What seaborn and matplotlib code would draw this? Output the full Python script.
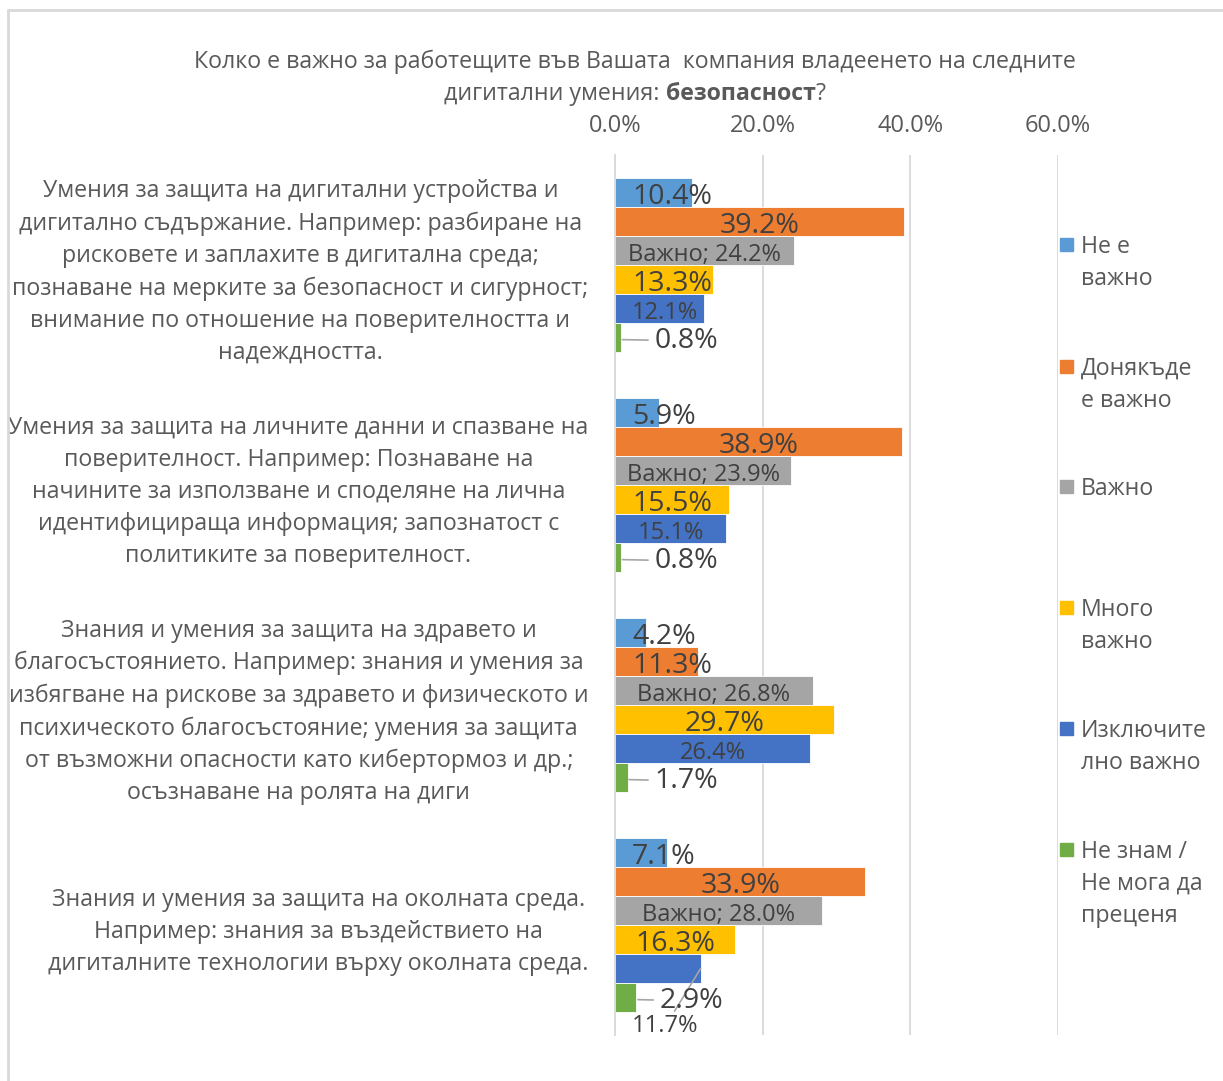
import pandas as pd
import seaborn as sns
import matplotlib.pyplot as plt
from matplotlib.lines import Line2D
from matplotlib.patches import Rectangle

categories = [
    "Умения за защита на дигитални устройства и\nдигитално съдържание. Например: разбиране на\n"
    "рисковете и заплахите в дигитална среда;\nпознаване на мерките за безопасност и сигурност;\n"
    "внимание по отношение на поверителността и\nнадеждността.",
    "Умения за защита на личните данни и спазване на\nповерителност. Например: Познаване на\n"
    "начините за използване и споделяне на лична\nидентифицираща информация; запознатост с\n"
    "политиките за поверителност.",
    "Знания и умения за защита на здравето и\nблагосъстоянието. Например: знания и умения за\n"
    "избягване на рискове за здравето и физическото и\nпсихическото благосъстояние; умения за защита\n"
    "от възможни опасности като кибертормоз и др.;\nосъзнаване на ролята на диги",
    "Знания и умения за защита на околната среда.\nНапример: знания за въздействието на\n"
    "дигиталните технологии върху околната среда.",
]
series = ["Не е важно", "Донякъде е важно", "Важно", "Много важно",
          "Изключително важно", "Не знам / Не мога да преценя"]
legend_labels = ["Не е\nважно", "Донякъде\nе важно", "Важно", "Много\nважно",
                 "Изключите\nлно важно", "Не знам /\nНе мога да\nпреценя"]
colors = ["#5B9BD5", "#ED7D31", "#A5A5A5", "#FFC000", "#4472C4", "#70AD47"]

ne_vazhno = [10.4, 5.9, 4.2, 7.1]
donyakade = [39.2, 38.9, 11.3, 33.9]
vazhno = [24.2, 23.9, 26.8, 28.0]
mnogo_vazhno = [13.3, 15.5, 29.7, 16.3]
izkl_vazhno = [12.1, 15.1, 26.4, 11.7]
ne_znam = [0.8, 0.8, 1.7, 2.9]
values = [ne_vazhno, donyakade, vazhno, mnogo_vazhno, izkl_vazhno, ne_znam]

rows = []
for s, vals in zip(series, values):
    for c, v in zip(categories, vals):
        rows.append({"category": c, "series": s, "value": v})
df = pd.DataFrame(rows)

sns.set_theme(style="white")
plt.rcParams['font.family'] = ['Open Sans', 'DejaVu Sans']
txt = "#595959"
lab = "#404040"
fs_main = 16.7

W, H = 1223, 1081
fig = plt.figure(figsize=(W / 100, H / 100), dpi=100)
ax = fig.add_axes([615 / W, 1 - 1035 / H, (1058 - 615) / W, (1035 - 155) / H])

sns.barplot(data=df, y="category", x="value", hue="series", orient="h",
            hue_order=series, order=categories, palette=colors, saturation=1,
            width=0.79, gap=0, errorbar=None, legend=False, edgecolor="white",
            linewidth=0.6, ax=ax)

ax.set_xlim(0, 60)
ax.set_ylim(3.5, -0.5)
ax.xaxis.tick_top()
ax.set_xticks([0, 20, 40, 60])
ax.set_xticklabels([f"{t:.1f}%" for t in [0, 20, 40, 60]], fontsize=17, color=txt)
ax.tick_params(axis="x", length=0, pad=12)
ax.set_yticks(range(len(categories)))
ax.set_yticklabels(categories, fontsize=fs_main, color=txt, ha="right",
                   multialignment="center", linespacing=1.45)
ax.tick_params(axis="y", length=0, pad=19)
ax.set_xlabel("")
ax.set_ylabel("")
ax.grid(axis="x", color="#D9D9D9", lw=1.3)
ax.set_axisbelow(True)
for sp in ["top", "right", "bottom"]:
    ax.spines[sp].set_visible(False)
ax.spines["left"].set_color("#D9D9D9")
ax.spines["left"].set_linewidth(1.3)

# data labels
big = 20.5
small = 17
dy = 0.006
for j, cont in enumerate(ax.containers):
    for i, bar in enumerate(cont):
        v = values[j][i]
        yc = bar.get_y() + bar.get_height() / 2
        if j == 5:
            ax.annotate(f"{v:.1f}%", xy=(v + 0.2, yc + 0.01), xytext=(max(v + 3.1, 5.3), yc),
                        fontsize=big, color=lab, ha="left", va="center_baseline",
                        arrowprops=dict(arrowstyle="-", color="#A6A6A6", lw=1.2,
                                        shrinkA=2, shrinkB=0))
            continue
        if j == 4 and i == 3:
            ax.annotate(f"{v:.1f}%", xy=(v - 0.1, yc), xytext=(6.8, yc + 0.25),
                        fontsize=small, color=lab, ha="center", va="center_baseline",
                        arrowprops=dict(arrowstyle="-", color="#A6A6A6", lw=1.2,
                                        shrinkA=0, shrinkB=0))
            continue
        if j == 2:
            s, fs = f"Важно; {v:.1f}%", small
        elif j == 4:
            s, fs = f"{v:.1f}%", small
        else:
            s, fs = f"{v:.1f}%", big
        if v < 15:
            ax.text(2.3, yc + dy, s, fontsize=fs, color=lab, ha="left", va="center_baseline")
        else:
            ax.text(v / 2, yc + dy, s, fontsize=fs, color=lab, ha="center", va="center_baseline")

# title with bold part
fig.text(635 / W, 1 - 59 / H, "Колко е важно за работещите във Вашата  компания владеенето на следните",
         fontsize=fs_main, color=txt, ha="center", va="center_baseline")
parts = [("дигитални умения: ", "normal"), ("безопасност", "bold"), ("?", "normal")]
r = fig.canvas.get_renderer()
tmp = [fig.text(0, 0, p, fontsize=fs_main, fontweight=w) for p, w in parts]
widths = [t.get_window_extent(r).width for t in tmp]
for t in tmp:
    t.remove()
x0 = 635 - sum(widths) / 2
for (p, w), wd in zip(parts, widths):
    fig.text(x0 / W, 1 - 91 / H, p, fontsize=fs_main, fontweight=w, color=txt,
             ha="left", va="center_baseline")
    x0 += wd

# legend
leg_y = [245, 367, 487, 608, 729, 850]
for lbl, col, yy in zip(legend_labels, colors, leg_y):
    fig.add_artist(Rectangle((1060 / W, 1 - (yy + 6) / H), 13 / W, 13 / H,
                             transform=fig.transFigure, color=col))
    fig.text(1081 / W, 1 - (yy - 10) / H, lbl, fontsize=fs_main, color=txt,
             ha="left", va="top", linespacing=1.45)

# chart border
fig.add_artist(Line2D([8 / W, 8 / W], [0, 1 - 10 / H], transform=fig.transFigure,
                      color="#D9D9D9", lw=2))
fig.add_artist(Line2D([8 / W, 1], [1 - 10 / H, 1 - 10 / H], transform=fig.transFigure,
                      color="#D9D9D9", lw=2))

plt.savefig("out.png", dpi=100)
